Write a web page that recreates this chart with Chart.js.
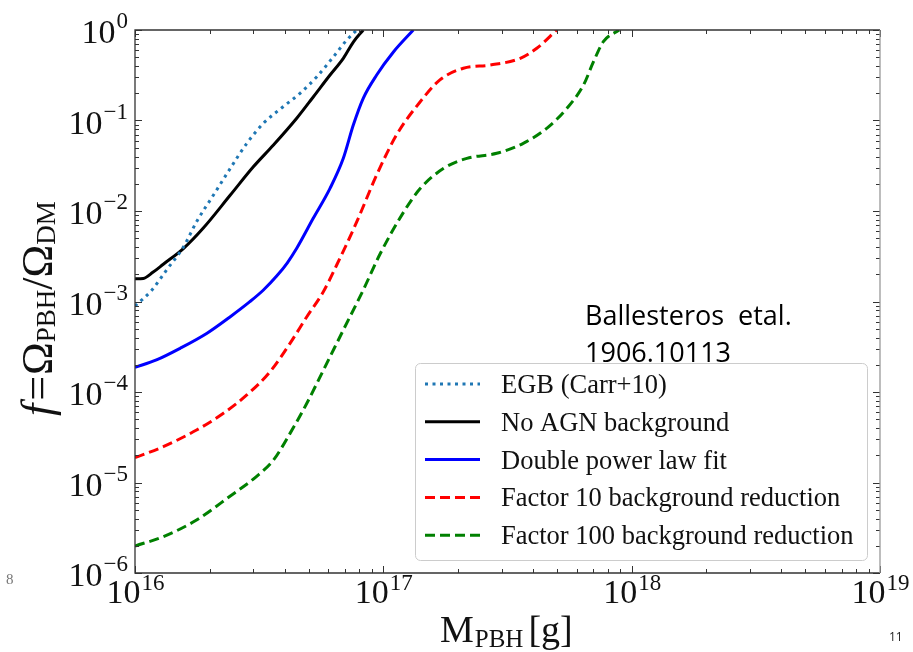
<!DOCTYPE html>
<html>
<head>
<meta charset="utf-8">
<script src="https://cdn.jsdelivr.net/npm/chart.js@4.4.1/dist/chart.umd.min.js"></script>
<style>
    html, body { margin: 0; padding: 0; background: #fff; }
    #wrap { width: 913px; height: 652px; }
</style>
</head>
<body>
<div id="wrap"><canvas id="pbh-chart" width="913" height="652"></canvas></div>
<script>
// values (mass in g, f = Omega_PBH / Omega_DM)
const seriesLabels = ['EGB (Carr+10)', 'No AGN background', 'Double power law fit',
    'Factor 10 background reduction', 'Factor 100 background reduction'];

const massEGB = [1.0e16, 1.17e16, 1.34e16, 1.57e16, 1.77e16, 2.07e16, 2.42e16, 2.82e16,
    3.29e16, 3.95e16, 4.62e16, 5.40e16, 6.30e16, 7.13e16, 7.82e16];
const fEGB = [8.9e-4, 1.34e-3, 2.23e-3, 4.04e-3, 7.62e-3, 1.50e-2, 2.96e-2, 5.60e-2,
    9.31e-2, 0.142, 0.20, 0.305, 0.507, 0.776, 1.0];

const massNoAGN = [1.0e16, 1.08e16, 1.18e16, 1.30e16, 1.57e16, 1.88e16, 2.42e16, 2.99e16,
    3.61e16, 4.48e16, 5.22e16, 6.10e16, 6.90e16, 7.57e16, 8.30e16];
const fNoAGN = [1.78e-3, 1.80e-3, 2.10e-3, 2.58e-3, 3.87e-3, 6.44e-3, 1.50e-2, 3.06e-2,
    5.36e-2, 0.106, 0.182, 0.318, 0.486, 0.736, 1.0];

const massDPL = [1.0e16, 1.22e16, 1.52e16, 1.95e16, 2.42e16, 2.90e16, 3.29e16, 3.72e16,
    4.10e16, 4.48e16, 5.22e16, 6.10e16, 6.90e16, 7.57e16, 8.30e16, 9.40e16, 1.10e17, 1.32e17];
const fDPL = [1.87e-4, 2.26e-4, 3.04e-4, 4.46e-4, 6.79e-4, 9.95e-4, 1.34e-3, 1.91e-3,
    2.66e-3, 3.87e-3, 8.30e-3, 1.78e-2, 3.82e-2, 8.91e-2, 0.176, 0.318, 0.575, 1.0];

const massF10 = [1.0e16, 1.30e16, 1.77e16, 2.27e16, 2.82e16, 3.50e16, 4.21e16, 4.92e16,
    5.74e16, 6.49e16, 7.82e16, 9.40e16, 1.13e17, 1.41e17, 1.69e17, 2.10e17, 2.69e17,
    3.56e17, 4.15e17, 4.99e17];
const fF10 = [1.88e-5, 2.49e-5, 3.80e-5, 5.82e-5, 9.27e-5, 1.68e-4, 3.45e-4, 6.79e-4,
    1.29e-3, 2.53e-3, 7.62e-3, 2.50e-2, 6.92e-2, 0.162, 0.281, 0.378, 0.410,
    0.486, 0.628, 1.0];

const massF100 = [1.0e16, 1.30e16, 1.77e16, 2.42e16, 3.09e16, 3.61e16, 4.21e16, 4.92e16,
    5.74e16, 6.90e16, 8.30e16, 9.70e16, 1.21e17, 1.41e17, 1.75e17, 2.17e17, 2.86e17,
    3.66e17, 4.55e17, 5.48e17, 6.40e17, 7.02e17, 7.69e17, 8.9e17];
const fF100 = [1.99e-6, 2.52e-6, 3.85e-6, 7.10e-6, 1.17e-5, 1.77e-5, 3.49e-5, 7.50e-5,
    1.75e-4, 4.84e-4, 1.34e-3, 3.35e-3, 9.84e-3, 1.78e-2, 2.96e-2, 3.82e-2, 4.34e-2,
    5.60e-2, 8.20e-2, 0.136, 0.247, 0.447, 0.743, 1.0];

const xRange = [1e16, 1e19];
const yRange = [1e-6, 1];

const SERIF = '"Liberation Serif", "DejaVu Serif", serif';

function points(xs, ys) {
    return xs.map((x, i) => ({ x: x, y: ys[i] }));
}

function isDecade(v) {
    const l = Math.log10(v);
    return Math.abs(l - Math.round(l)) < 1e-6;
}

function keepIntegerMantissa(scale) {
    scale.ticks = scale.ticks.filter(t => {
        const m = t.value / Math.pow(10, Math.floor(Math.log10(t.value) + 1e-9));
        return Math.abs(m - Math.round(m)) < 1e-6;
    });
}

function superscriptText(v) {
    const e = Math.round(Math.log10(v));
    return e < 0 ? '\u2212' + Math.abs(e) : String(e);
}

// box, inward ticks and power-of-ten labels
const axesPlugin = {
    id: 'axesPlugin',
    afterDatasetsDraw(chart) {
        const ctx = chart.ctx;
        const a = chart.chartArea;
        const xs = chart.scales.x;
        const ys = chart.scales.y;
        ctx.save();
        ctx.strokeStyle = '#333';
        ctx.lineWidth = 1;
        ctx.beginPath();
        xs.ticks.forEach(t => {
            const px = Math.round(xs.getPixelForValue(t.value)) + 0.5;
            const len = isDecade(t.value) ? 7 : 4;
            ctx.moveTo(px, a.bottom); ctx.lineTo(px, a.bottom - len);
            ctx.moveTo(px, a.top); ctx.lineTo(px, a.top + len);
        });
        ys.ticks.forEach(t => {
            const py = Math.round(ys.getPixelForValue(t.value)) + 0.5;
            const len = isDecade(t.value) ? 7 : 4;
            ctx.moveTo(a.left, py); ctx.lineTo(a.left + len, py);
            ctx.moveTo(a.right, py); ctx.lineTo(a.right - len, py);
        });
        ctx.stroke();

        ctx.lineWidth = 1.3;
        ctx.beginPath();
        ctx.moveTo(a.right, a.top);
        ctx.lineTo(a.left, a.top);
        ctx.lineTo(a.left, a.bottom);
        ctx.lineTo(a.right, a.bottom);
        ctx.stroke();
        ctx.strokeStyle = '#999';
        ctx.beginPath();
        ctx.moveTo(a.right, a.top);
        ctx.lineTo(a.right, a.bottom);
        ctx.stroke();

        // tick labels
        ctx.fillStyle = '#111';
        ctx.textBaseline = 'alphabetic';
        ctx.textAlign = 'left';
        const big = '34px ' + SERIF;
        const small = '23px ' + SERIF;
        ys.ticks.filter(t => isDecade(t.value)).forEach(t => {
            const py = ys.getPixelForValue(t.value);
            const ex = superscriptText(t.value);
            ctx.font = big;
            const w10 = ctx.measureText('10').width;
            ctx.font = small;
            const wex = ctx.measureText(ex).width;
            const x0 = 128 - w10 - wex - 1;
            ctx.font = big;
            ctx.fillText('10', x0, py + 13);
            ctx.font = small;
            ctx.fillText(ex, x0 + w10 + 1, py - 2);
        });
        xs.ticks.filter(t => isDecade(t.value)).forEach(t => {
            const px = xs.getPixelForValue(t.value);
            const ex = superscriptText(t.value);
            ctx.font = big;
            const w10 = ctx.measureText('10').width;
            ctx.font = small;
            const wex = ctx.measureText(ex).width;
            const x0 = px - (w10 + wex) / 2;
            ctx.font = big;
            ctx.fillText('10', x0, a.bottom + 30);
            ctx.font = small;
            ctx.fillText(ex, x0 + w10 + 1, a.bottom + 17);
        });
        ctx.restore();
    },
    afterDraw(chart) {
        const ctx = chart.ctx;
        ctx.save();
        ctx.fillStyle = '#111';
        ctx.textAlign = 'left';
        ctx.textBaseline = 'alphabetic';

        // x title: M_PBH [g]
        let x = 440;
        ctx.font = '38px ' + SERIF;
        ctx.fillText('M', x, 642);
        x += ctx.measureText('M').width + 1;
        ctx.font = '25px ' + SERIF;
        ctx.fillText('PBH', x, 647);
        x += ctx.measureText('PBH').width + 5;
        ctx.font = '38px ' + SERIF;
        ctx.fillText('[g]', x, 642);

        // y title: f = Omega_PBH / Omega_DM
        ctx.translate(52, 416);
        ctx.rotate(-Math.PI / 2);
        const parts = [
            ['f', 'italic 44px ' + SERIF, 0, 3],
            ['=', '44px ' + SERIF, 0, 1],
            ['\u03A9', '44px ' + SERIF, 0, 0],
            ['PBH', '27px ' + SERIF, 3, 0],
            ['/\u03A9', '44px ' + SERIF, 0, 0],
            ['DM', '27px ' + SERIF, 3, 0]
        ];
        let tx = 0;
        parts.forEach(p => {
            ctx.font = p[1];
            ctx.fillText(p[0], tx, p[2]);
            tx += ctx.measureText(p[0]).width + p[3];
        });
        ctx.restore();

        // legend
        ctx.save();
        const lx = 415, ly = 363, lw = 452, lh = 197;
        ctx.fillStyle = 'rgba(255,255,255,0.85)';
        ctx.strokeStyle = '#cccccc';
        ctx.lineWidth = 1;
        ctx.beginPath();
        ctx.roundRect(lx + 0.5, ly + 0.5, lw, lh, 5);
        ctx.fill();
        ctx.stroke();
        chart.data.datasets.forEach((ds, i) => {
            const cy = ly + 21 + i * 37.8;
            ctx.strokeStyle = ds.borderColor;
            ctx.lineWidth = ds.borderWidth;
            ctx.setLineDash(ds.borderDash || []);
            ctx.beginPath();
            ctx.moveTo(425, cy);
            ctx.lineTo(480, cy);
            ctx.stroke();
            ctx.setLineDash([]);
            ctx.fillStyle = '#111';
            ctx.font = '26.5px ' + SERIF;
            ctx.textBaseline = 'middle';
            ctx.fillText(ds.label, 501, cy + 2);
        });

        // annotation and page marks
        ctx.textBaseline = 'alphabetic';
        ctx.fillStyle = '#000';
        ctx.font = '27px "Open Sans", sans-serif';
        ctx.fillText('Ballesteros  etal.', 585, 325);
        ctx.fillText('1906.10113', 585, 362);
        ctx.fillStyle = '#777';
        ctx.font = '15px ' + SERIF;
        ctx.fillText('8', 6, 584);
        ctx.fillStyle = '#222';
        ctx.font = '12px "Open Sans", sans-serif';
        ctx.fillText('11', 889, 641);
        ctx.restore();
    }
};

const ctx = document.getElementById('pbh-chart').getContext('2d');
window.pbhChart = new Chart(ctx, {
    type: 'line',
    data: {
        datasets: [
            {
                label: seriesLabels[0],
                data: points(massEGB, fEGB),
                borderColor: '#1f77b4',
                borderWidth: 3,
                borderDash: [3, 4.5],
            },
            {
                label: seriesLabels[1],
                data: points(massNoAGN, fNoAGN),
                borderColor: '#000000',
                borderWidth: 3,
            },
            {
                label: seriesLabels[2],
                data: points(massDPL, fDPL),
                borderColor: '#0000ff',
                borderWidth: 3,
            },
            {
                label: seriesLabels[3],
                data: points(massF10, fF10),
                borderColor: '#ff0000',
                borderWidth: 3,
                borderDash: [10, 5],
            },
            {
                label: seriesLabels[4],
                data: points(massF100, fF100),
                borderColor: '#008000',
                borderWidth: 3,
                borderDash: [10, 5],
            },
        ],
    },
    options: {
        responsive: false,
        animation: false,
        devicePixelRatio: 1,
        layout: { padding: { top: 30, right: 33, left: 0, bottom: 0 } },
        elements: {
            point: { radius: 0 },
            line: { cubicInterpolationMode: 'monotone', fill: false },
        },
        plugins: {
            legend: { display: false },
            tooltip: { enabled: false },
        },
        scales: {
            x: {
                type: 'logarithmic',
                min: xRange[0],
                max: xRange[1],
                grid: { display: false },
                border: { display: false },
                ticks: { display: false, autoSkip: false },
                afterBuildTicks: keepIntegerMantissa,
                afterFit: s => { s.height = 79; },
            },
            y: {
                type: 'logarithmic',
                min: yRange[0],
                max: yRange[1],
                grid: { display: false },
                border: { display: false },
                ticks: { display: false, autoSkip: false },
                afterBuildTicks: keepIntegerMantissa,
                afterFit: s => { s.width = 135; },
            },
        },
    },
    plugins: [axesPlugin],
});
</script>
</body>
</html>
